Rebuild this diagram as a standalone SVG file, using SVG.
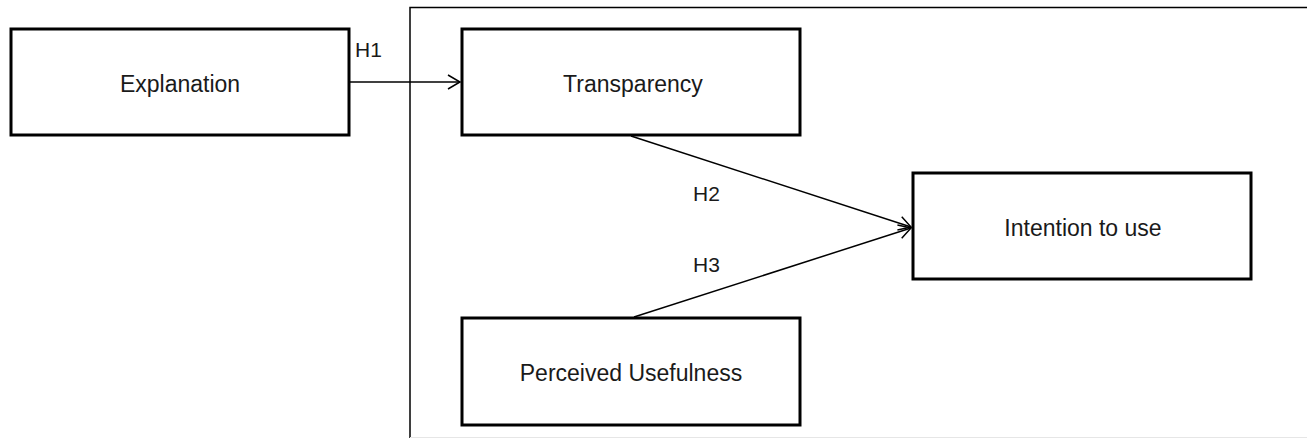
<svg xmlns="http://www.w3.org/2000/svg" width="1307" height="439" viewBox="0 0 1307 439">
  <style>
    .node { fill: #ffffff; stroke: #000000; stroke-width: 3; }
    .label { font-family: "Liberation Sans", Arial, sans-serif; font-size: 23px; fill: #1a1a1a; text-anchor: middle; }
    .hyp { font-family: "Liberation Sans", Arial, sans-serif; font-size: 21px; fill: #1a1a1a; }
    .edge { fill: none; stroke: #000000; stroke-width: 1.5; marker-end: url(#arrow); }
    .frame { fill: none; stroke: #000000; stroke-width: 1.5; }
  </style>
  <defs>
    <marker id="arrow" markerWidth="16" markerHeight="16" refX="13" refY="8" orient="auto" markerUnits="userSpaceOnUse">
      <path d="M1,1 L13,8 L1,15" fill="none" stroke="#000000" stroke-width="1.5"/>
    </marker>
  </defs>
  <rect width="1307" height="439" fill="#ffffff"/>

  <!-- enclosing frame -->
  <g id="frame">
    <path class="frame" d="M410,438 L410,7.5 L1307,7.5"/>
    <line x1="410" y1="437.5" x2="1307" y2="437.5" stroke="#e6e6e6" stroke-width="1"/>
  </g>

  <!-- connectors -->
  <g id="connectors">
    <line class="edge" x1="350" y1="82" x2="460" y2="82"/>
    <line class="edge" x1="631" y1="136" x2="911" y2="227"/>
    <line class="edge" x1="634" y1="317" x2="911" y2="228"/>
    <text class="hyp" x="355" y="57">H1</text>
    <text class="hyp" x="693" y="201">H2</text>
    <text class="hyp" x="693" y="272">H3</text>
  </g>

  <g id="explanation">
    <rect class="node" x="11" y="29" width="338" height="106"/>
    <text class="label" x="180" y="92">Explanation</text>
  </g>
  <g id="transparency">
    <rect class="node" x="462" y="29" width="338" height="106"/>
    <text class="label" x="633" y="92">Transparency</text>
  </g>
  <g id="intention">
    <rect class="node" x="913" y="173" width="338" height="106"/>
    <text class="label" x="1083" y="236">Intention to use</text>
  </g>
  <g id="usefulness">
    <rect class="node" x="462" y="318" width="338" height="107"/>
    <text class="label" x="631" y="381">Perceived Usefulness</text>
  </g>
</svg>
